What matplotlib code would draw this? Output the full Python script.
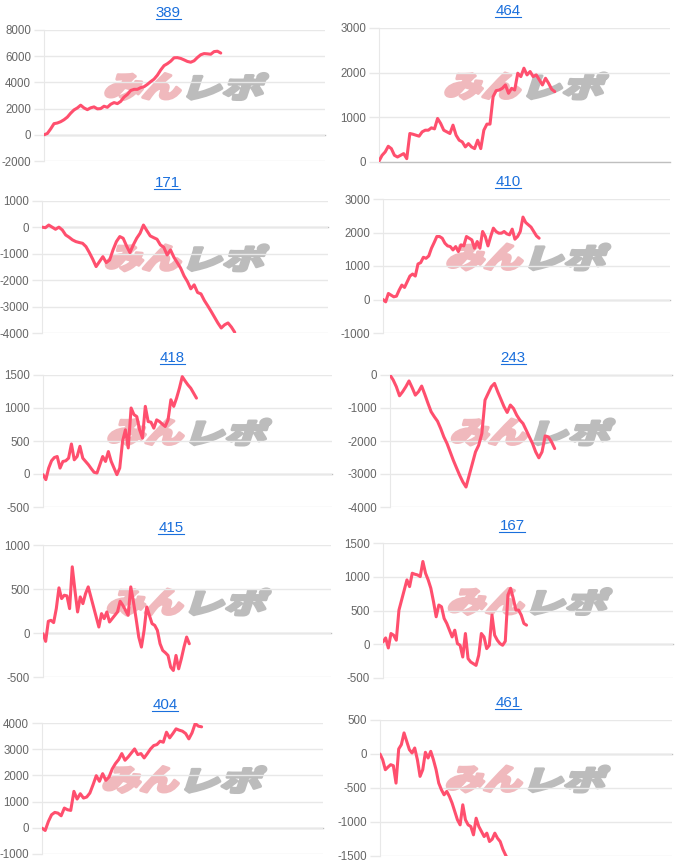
import matplotlib
matplotlib.use('Agg')
import numpy as np
import matplotlib.pyplot as plt
from matplotlib.font_manager import FontProperties
from matplotlib.lines import Line2D
from matplotlib.patches import PathPatch
from matplotlib.textpath import TextPath
from matplotlib.ticker import StrMethodFormatter
from matplotlib.transforms import Affine2D

plt.rcParams['font.family'] = ['Liberation Sans', 'DejaVu Sans']
plt.rcParams['axes.unicode_minus'] = False

W, H = 680, 865

# chart titles (machine numbers)
titles = ['389', '464', '171', '410', '418', '243', '415', '167', '404', '461']

# running totals
s389 = [0, 100, 450, 850, 900, 1000, 1150, 1350, 1650, 1900, 2050, 2260, 2050, 1920,
        2060, 2130, 1980, 2000, 2180, 2100, 2330, 2460, 2380, 2550, 2880, 3080, 3380,
        3470, 3470, 3600, 3670, 3850, 4060, 4250, 4550, 4950, 5280, 5430, 5620, 5880,
        5890, 5830, 5720, 5600, 5540, 5650, 5900, 6110, 6200, 6180, 6150, 6350, 6380, 6240]
s464 = [20, 150, 225, 352, 300, 150, 112, 150, 188, 75, 638, 622, 600, 578, 675, 712,
        712, 765, 742, 975, 862, 712, 675, 638, 825, 600, 488, 450, 338, 412, 338, 300,
        488, 300, 712, 848, 848, 1462, 1598, 1612, 1650, 1725, 1538, 1650, 1612, 1988,
        1912, 2100, 1950, 2025, 1912, 1950, 1838, 1725, 1875, 1762, 1628, 1575]
s171 = [0, -20, 80, 0, -80, 0, -105, -295, -380, -480, -545, -580, -610, -735, -960,
        -1210, -1490, -1300, -1115, -1340, -1240, -860, -545, -355, -420, -710, -960,
        -670, -420, -230, 80, -130, -330, -395, -455, -670, -760, -1050, -860, -1135,
        -1340, -1550, -1840, -2055, -2330, -2180, -2470, -2520, -2770, -2970, -3180,
        -3400, -3620, -3810, -3690, -3620, -3775, -3975]
s410 = [0, -70, 180, 130, 80, 100, 280, 430, 360, 530, 700, 760, 700, 1060, 1100, 1260,
        1230, 1300, 1530, 1700, 1880, 1880, 1830, 1680, 1600, 1580, 1480, 1580, 1430,
        1630, 1600, 1880, 1830, 1780, 1530, 1730, 1530, 2030, 1880, 1600, 1880, 2130,
        2030, 1980, 1980, 2030, 1960, 1930, 2100, 1800, 1880, 2030, 2460, 2300, 2230,
        2160, 2030, 1900, 1830]
s418 = [-10, -85, 90, 200, 250, 265, 90, 190, 200, 240, 455, 215, 265, 420, 240, 190,
        140, 80, 25, 15, 140, 265, 190, 340, 190, 90, -10, 90, 495, 670, 395, 1000, 900,
        870, 670, 545, 1025, 795, 785, 695, 820, 795, 755, 720, 820, 1125, 1025, 1150,
        1300, 1475, 1410, 1350, 1300, 1225, 1150]
s243 = [0, -150, -355, -630, -505, -355, -180, -385, -610, -505, -335, -590, -860,
        -1115, -1265, -1400, -1620, -1875, -2075, -2330, -2585, -2815, -3040, -3240,
        -3395, -3040, -2685, -2330, -2130, -1775, -760, -555, -355, -255, -505, -730,
        -960, -1135, -910, -1015, -1215, -1365, -1470, -1670, -1875, -2075, -2330, -2510,
        -2330, -1845, -1875, -2025, -2230]
s415 = [-8, -95, 133, 144, 118, 277, 513, 391, 429, 422, 277, 752, 486, 239, 410, 334,
        448, 524, 410, 296, 182, 68, 220, 163, 239, 125, 163, 201, 239, 361, 315, 258,
        201, 524, 353, 163, -46, -160, 30, 296, 201, 106, 87, 30, -122, -198, -224, -255,
        -388, -426, -255, -407, -293, -160, -46, -122]
s167 = [35, 94, -55, 159, 134, 60, 506, 655, 804, 953, 854, 1052, 1037, 1027, 1002,
        1226, 1052, 953, 829, 630, 407, 581, 556, 382, 308, 208, 109, 208, 10, -15, -189,
        159, -213, -263, -288, -313, -164, 159, 109, -65, -15, 432, 134, 60, 10, -15, 45,
        730, 829, 680, 506, 506, 432, 308, 283]
s404 = [-13, -102, 242, 498, 587, 561, 459, 753, 689, 664, 1391, 1097, 1301, 1135, 1174,
        1327, 1646, 1990, 1774, 2067, 1812, 1940, 2246, 2450, 2603, 2833, 2578, 2705,
        2858, 3011, 2794, 2833, 2667, 2833, 3011, 3139, 3177, 3305, 3266, 3649, 3433,
        3598, 3777, 3726, 3688, 3598, 3394, 3624, 3981, 3879, 3854]
s461 = [0, -84, -231, -192, -157, -172, -428, 74, 138, 310, 187, 64, 15, 88, -84, -329,
        -231, 25, -59, 39, -84, -231, -428, -526, -600, -550, -624, -722, -845, -968,
        -1042, -747, -968, -1042, -1066, -1189, -944, -1066, -1140, -1214, -1164, -1287,
        -1253, -1164, -1238, -1287, -1400, -1484, -1558]

series = [s389, s464, s171, s410, s418, s243, s415, s167, s404, s461]

y_ranges = [(-2000, 8000), (0, 3000), (-4000, 1000), (-1000, 3000), (-500, 1500),
            (-4000, 0), (-500, 1000), (-500, 1500), (-1000, 4000), (-1500, 500)]
y_steps = [2000, 1000, 1000, 1000, 500, 1000, 500, 500, 1000, 500]
# how far along the x axis each line gets
fills = [0.629, 0.604, 0.674, 0.544, 0.531, 0.584, 0.508, 0.495, 0.568, 0.439]

# plot boxes in pixels: left, right, top, bottom
boxes = [(44, 325, 30, 161), (379, 670, 28, 162),
         (42, 328, 200.7, 333), (383, 670, 199, 333),
         (43, 332, 375, 507), (390, 672, 375, 507),
         (43, 331, 545, 677), (383, 673, 543, 678),
         (42, 323, 723, 854), (380, 672, 720, 856)]
# title centre x and baseline y in pixels
title_pos = [(168, 17), (508, 15), (167, 187), (508, 186), (172, 362),
             (513, 362), (171, 532), (512, 530), (165, 709), (508, 707)]

fig = plt.figure(figsize=(6.8, 8.65), dpi=100)
px = Affine2D().scale(1 / W, 1 / H) + fig.transFigure

wm_font = FontProperties(family='Noto Sans CJK JP', weight='black')


def watermark(cx, cy):
    # みんレポ logo, pink + grey, slanted and heavy
    parts = [('みん', '#f0b9bd', cx - 81), ('レポ', '#bcbcbc', cx + 2)]
    for txt, col, x0 in parts:
        tp = TextPath((0, 0), txt, size=40, prop=wm_font)
        ext = tp.get_extents()
        tr = (Affine2D().translate(-ext.x0, -ext.y0)
              .scale(74 / ext.width, 26 / ext.height)
              .skew_deg(18, 0)
              .translate(x0, H - cy - 13))
        patch = PathPatch(tr.transform_path(tp), transform=px, fc=col, ec=col,
                          lw=2.2, joinstyle='round', zorder=-1)
        fig.add_artist(patch)


title_texts = []
for i in range(len(series)):
    vals = series[i]
    l, r, t, b = boxes[i]
    ax = fig.add_axes([l / W, 1 - b / H, (r - l) / W, (b - t) / H])
    ax.set_facecolor('none')
    lo, hi = y_ranges[i]
    ax.set_ylim(lo, hi)
    ax.set_yticks(np.arange(lo, hi + 1, y_steps[i]))
    ax.yaxis.set_major_formatter(StrMethodFormatter('{x:.0f}'))
    n = len(vals)
    ax.set_xlim(0, (n - 1) / fills[i])
    ax.set_xticks([])
    ax.grid(axis='y', color='#e8e8e8', lw=1)
    ax.axhline(0, color='#bfbfbf', lw=1, clip_on=False, zorder=1)
    for side in ['top', 'right', 'bottom']:
        ax.spines[side].set_visible(False)
    ax.spines['left'].set_color('#e8e8e8')
    ax.tick_params(axis='y', length=7.5, width=1, color='#e8e8e8', pad=1.8,
                   labelsize=8.3, labelcolor='#666666')
    ax.plot(range(n), vals, color='#ff4f6e', lw=2.2, solid_joinstyle='round',
            solid_capstyle='round', zorder=3)

    watermark((l + r) / 2, (t + b) / 2 - 9)

    tx, ty = title_pos[i]
    title_texts.append(fig.text(tx / W, 1 - ty / H, titles[i], ha='center',
                                va='baseline', fontsize=10.8, color='#1a6fdc'))

# underline the titles like links
fig.canvas.draw()
rend = fig.canvas.get_renderer()
for i, txt in enumerate(title_texts):
    bb = txt.get_window_extent(rend)
    yy = H - (title_pos[i][1] + 1.5)
    fig.add_artist(Line2D([bb.x0, bb.x1], [yy, yy], transform=px,
                          color='#1a6fdc', lw=0.8))

fig.savefig('out.png', dpi=100)
